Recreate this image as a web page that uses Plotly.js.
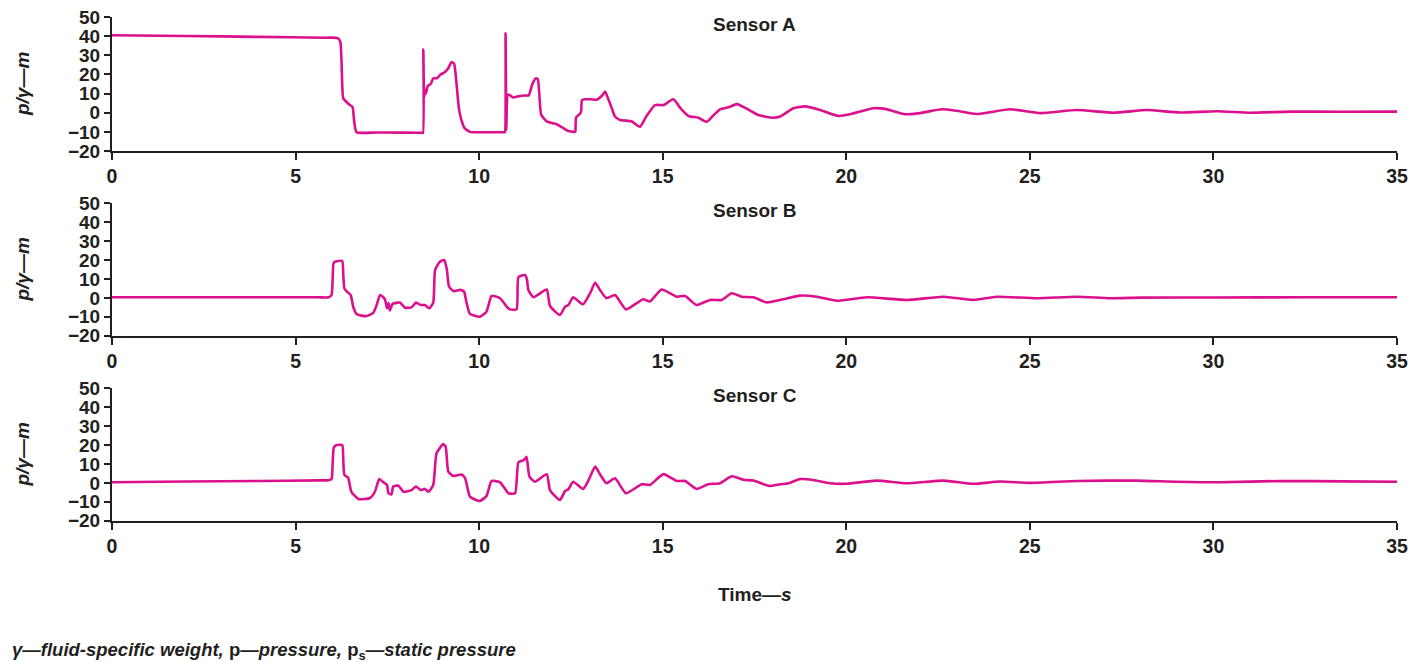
<!DOCTYPE html>
<html>
<head>
<meta charset="utf-8">
<script src="https://cdn.plot.ly/plotly-3.0.1.min.js"></script>
<style>html,body{margin:0;padding:0;background:#fff;}#chart{width:1424px;height:662px;}</style>
</head>
<body>
<div id="chart"></div>
<script>
// Sensor A
const tA = [0, 2.0, 4.0, 5.8, 6.15, 6.22, 6.27, 6.3, 6.45, 6.55, 6.6, 6.66, 7.2, 7.8, 8.44, 8.47, 8.48, 8.5, 8.52, 8.55, 8.6, 8.68, 8.75, 8.85, 8.95, 9.05, 9.15, 9.25, 9.32, 9.36, 9.45, 9.52, 9.6, 9.75, 10.0, 10.3, 10.68, 10.7, 10.72, 10.74, 10.77, 10.8, 10.93, 11.05, 11.25, 11.35, 11.45, 11.55, 11.6, 11.69, 11.84, 12.0, 12.11, 12.25, 12.43, 12.6, 12.62, 12.64, 12.75, 12.78, 12.8, 12.88, 13.05, 13.2, 13.35, 13.43, 13.52, 13.62, 13.7, 13.84, 14.15, 14.38, 14.55, 14.79, 15.02, 15.29, 15.5, 15.7, 15.97, 16.2, 16.4, 16.56, 16.79, 17.02, 17.3, 17.6, 18.01, 18.2, 18.56, 18.88, 19.29, 19.78, 20.1, 20.74, 21.06, 21.6, 22.01, 22.6, 23.0, 23.55, 24.46, 25.28, 26.28, 27.28, 28.18, 29.09, 30.09, 31.0, 32.09, 33.45, 35];
const vA = [40.5, 40.1, 39.6, 39.2, 39, 37, 15, 7.5, 4.5, 3, -5, -10.2, -10.3, -10.4, -10.5, -10.6, 33, 8, 12, 10, 14, 15, 18, 18, 20, 21, 23, 26.5, 25.5, 20, 2, -4, -8, -10, -10.2, -10.2, -10.2, -10.2, 41.5, -9, 9, 9.5, 8, 8.5, 9, 9, 15, 18, 17.5, -1, -4.5, -5.5, -6, -7.5, -9.6, -10, -10, -2.5, -0.5, 1, 6.5, 7, 7, 6.8, 9, 11, 7, 2, -2, -3.8, -4.5, -7.3, -2, 4, 4, 7, 2, -1.7, -2.6, -4.7, -1, 1.8, 2.8, 4.5, 2, -1.2, -2.6, -2, 2.3, 3.3, 1.4, -1.7, -0.8, 2.3, 2, -0.8, -0.2, 1.8, 1, -0.7, 1.8, -0.2, 1.4, 0, 1.4, 0.1, 0.8, 0, 0.6, 0.5, 0.6];

// Sensor B
const tB = [0, 2.0, 4.0, 5.6, 5.9, 5.98, 6.01, 6.04, 6.12, 6.27, 6.3, 6.33, 6.4, 6.5, 6.57, 6.66, 6.8, 6.94, 7.12, 7.21, 7.3, 7.39, 7.44, 7.49, 7.53, 7.57, 7.64, 7.84, 7.98, 8.16, 8.28, 8.41, 8.52, 8.64, 8.75, 8.8, 8.93, 9.05, 9.12, 9.18, 9.3, 9.48, 9.59, 9.65, 9.75, 10.02, 10.2, 10.34, 10.57, 10.75, 10.84, 11.02, 11.07, 11.25, 11.3, 11.34, 11.48, 11.84, 11.93, 12.2, 12.34, 12.43, 12.56, 12.83, 13.02, 13.16, 13.29, 13.47, 13.7, 14.0, 14.47, 14.65, 14.97, 15.38, 15.61, 15.92, 16.29, 16.61, 16.88, 17.15, 17.47, 17.83, 18.28, 18.74, 19.2, 19.74, 20.56, 21.65, 22.65, 23.46, 24.1, 25.19, 26.28, 27.19, 28.0, 30, 32.5, 35];
const vB = [0.3, 0.3, 0.3, 0.3, 0.3, 1.5, 10, 18.6, 19.3, 19.5, 12, 5, 3.3, 1.5, -4.7, -8.5, -9.4, -9.6, -7.8, -3.8, 1.5, 0.3, -1.1, -5.5, -2.8, -6.6, -3.2, -2.5, -5.2, -5, -2.5, -3.8, -3.8, -5.5, -2.5, 14.7, 19.1, 20, 15, 6, 3.6, 4.2, 3.3, -2, -8.5, -10, -7.3, 1, -0.2, -4.7, -6.1, -6.1, 10.9, 12.1, 10, 4.2, 0.3, 4.4, -4.3, -9.1, -4.7, -3.8, 0.3, -3.4, 2.4, 8, 4.2, -0.2, 1.5, -6.1, -0.7, -1.9, 4.4, 0.6, 1, -3.8, -1.1, -1.1, 2.4, 0.6, 0.3, -2.4, -0.7, 1.2, 0.6, -1.5, 0.3, -1.1, 0.6, -1.1, 0.6, -0.2, 0.6, -0.2, 0.1, 0.2, 0.3, 0.3];

// Sensor C
const tC = [0, 2.0, 4.0, 5.6, 5.9, 5.98, 6.01, 6.04, 6.12, 6.27, 6.3, 6.33, 6.43, 6.52, 6.71, 7.03, 7.16, 7.28, 7.39, 7.49, 7.53, 7.61, 7.66, 7.8, 7.94, 8.16, 8.28, 8.41, 8.52, 8.62, 8.75, 8.84, 9.02, 9.09, 9.16, 9.3, 9.52, 9.62, 9.75, 10.02, 10.2, 10.34, 10.57, 10.8, 10.98, 11.07, 11.22, 11.29, 11.37, 11.52, 11.84, 11.93, 12.2, 12.34, 12.43, 12.56, 12.83, 12.97, 13.16, 13.29, 13.47, 13.7, 14.0, 14.43, 14.65, 15.02, 15.38, 15.61, 15.92, 16.24, 16.56, 16.88, 17.2, 17.47, 17.9, 18.2, 18.43, 18.74, 19.1, 19.56, 20.01, 20.83, 21.65, 22.65, 23.46, 24.19, 25.0, 26.3, 27.9, 29.0, 30.2, 31.8, 33.5, 35];
const vC = [0.3, 0.7, 1.0, 1.3, 1.4, 2, 10, 18.6, 20, 20, 12, 4.2, 2.8, -4.7, -8.5, -8, -4.7, 2, 0.3, -1.1, -5.5, -6.1, -1.9, -1.5, -4.7, -3.8, -1.9, -3.8, -3.2, -4.7, -1.1, 15.6, 20.5, 19, 5.9, 3.6, 4.4, 2.4, -7.3, -9.6, -6.9, 1, 0.3, -5.5, -5.5, 10.9, 12.1, 13.8, 3.3, 0.6, 4.6, -3.8, -9.1, -4.3, -3.4, 0.6, -3.2, 1, 8.6, 4.6, -0.2, 2.4, -5.5, -0.7, -1.1, 4.6, 1, 1, -3.2, -0.7, -0.2, 3.5, 1.7, 1.2, -1.6, -0.7, -0.2, 2, 1.5, -0.2, -0.5, 1.2, -0.2, 1.2, -0.5, 0.7, 0, 1, 1.2, 0.6, 0.3, 1, 0.8, 0.6];

const panelTitles = ["Sensor A", "Sensor B", "Sensor C"];
const yTitle = "<b><i>p/γ—m</i></b>";
const xTitle = "<b>Time—<i>s</i></b>";
const footnote = "<b><i>γ—fluid-specific weight,</i> p<i>—pressure,</i> p<sub>s</sub><i>—static pressure</i></b>";
const yTicks = [-20, -10, 0, 10, 20, 30, 40, 50];
const xTicks = [0, 5, 10, 15, 20, 25, 30, 35];

const LINE = "#dc0f8c";
const INK = "#231f20";
const FONT = "Liberation Sans, Arial, sans-serif";

const series = [[tA, vA], [tB, vB], [tC, vC]];
const traces = series.map((s, i) => ({
  x: s[0], y: s[1], type: "scatter", mode: "lines",
  xaxis: i === 0 ? "x" : "x" + (i + 1),
  yaxis: i === 0 ? "y" : "y" + (i + 1),
  line: {color: LINE, width: 2.6, shape: "spline", smoothing: 0.5},
  hoverinfo: "skip"
}));

const doms = [[0.7341, 1.0], [0.3677, 0.6304], [0.0006, 0.2633]];
const layout = {
  width: 1424, height: 662,
  margin: {l: 112, r: 27, t: 17, b: 141},
  paper_bgcolor: "#fff", plot_bgcolor: "#fff",
  showlegend: false,
  font: {family: FONT, color: INK},
  annotations: []
};
for (let i = 0; i < 3; i++) {
  const sx = i === 0 ? "" : String(i + 1);
  layout["xaxis" + sx] = {
    domain: [0, 1], anchor: "y" + sx, range: [0, 35],
    tickmode: "array", tickvals: xTicks, ticktext: xTicks.map(String),
    showline: true, linewidth: 2, linecolor: INK,
    ticks: "outside", ticklen: 7, tickwidth: 2, tickcolor: INK,
    showgrid: false, zeroline: false, fixedrange: true,
    tickfont: {family: FONT, size: 19.5, weight: "bold", color: INK}
  };
  layout["yaxis" + sx] = {
    domain: doms[i], anchor: "x" + sx, range: [-20, 50],
    tickmode: "array", tickvals: yTicks, ticktext: yTicks.map(v => v < 0 ? "\u2212" + Math.abs(v) : String(v)),
    showline: true, linewidth: 2, linecolor: INK,
    ticks: "outside", ticklen: 6, tickwidth: 2, tickcolor: INK,
    showgrid: false, zeroline: false, fixedrange: true,
    tickfont: {family: FONT, size: 19, weight: "bold", color: INK}
  };
  layout.annotations.push({
    text: "<b>" + panelTitles[i] + "</b>", xref: "x" + sx + " domain", yref: "y" + sx + " domain",
    x: 0.5, y: 0.945, xanchor: "center", yanchor: "middle", showarrow: false,
    font: {family: FONT, size: 19, color: INK}
  });
  layout.annotations.push({
    text: yTitle, xref: "paper", yref: "y" + sx + " domain",
    x: -0.07, y: 0.5, xanchor: "center", yanchor: "middle", textangle: -90, showarrow: false,
    font: {family: FONT, size: 19, color: INK}
  });
}
layout.annotations.push({
  text: xTitle, xref: "paper", yref: "paper", x: 0.5, y: -0.1468,
  xanchor: "center", yanchor: "middle", showarrow: false,
  font: {family: FONT, size: 19, color: INK}
});
layout.annotations.push({
  text: footnote, xref: "paper", yref: "paper", x: -0.0794, y: -0.258,
  xanchor: "left", yanchor: "middle", showarrow: false,
  font: {family: FONT, size: 18.5, color: INK}
});

Plotly.newPlot("chart", traces, layout, {staticPlot: true, displayModeBar: false});
</script>
</body>
</html>
